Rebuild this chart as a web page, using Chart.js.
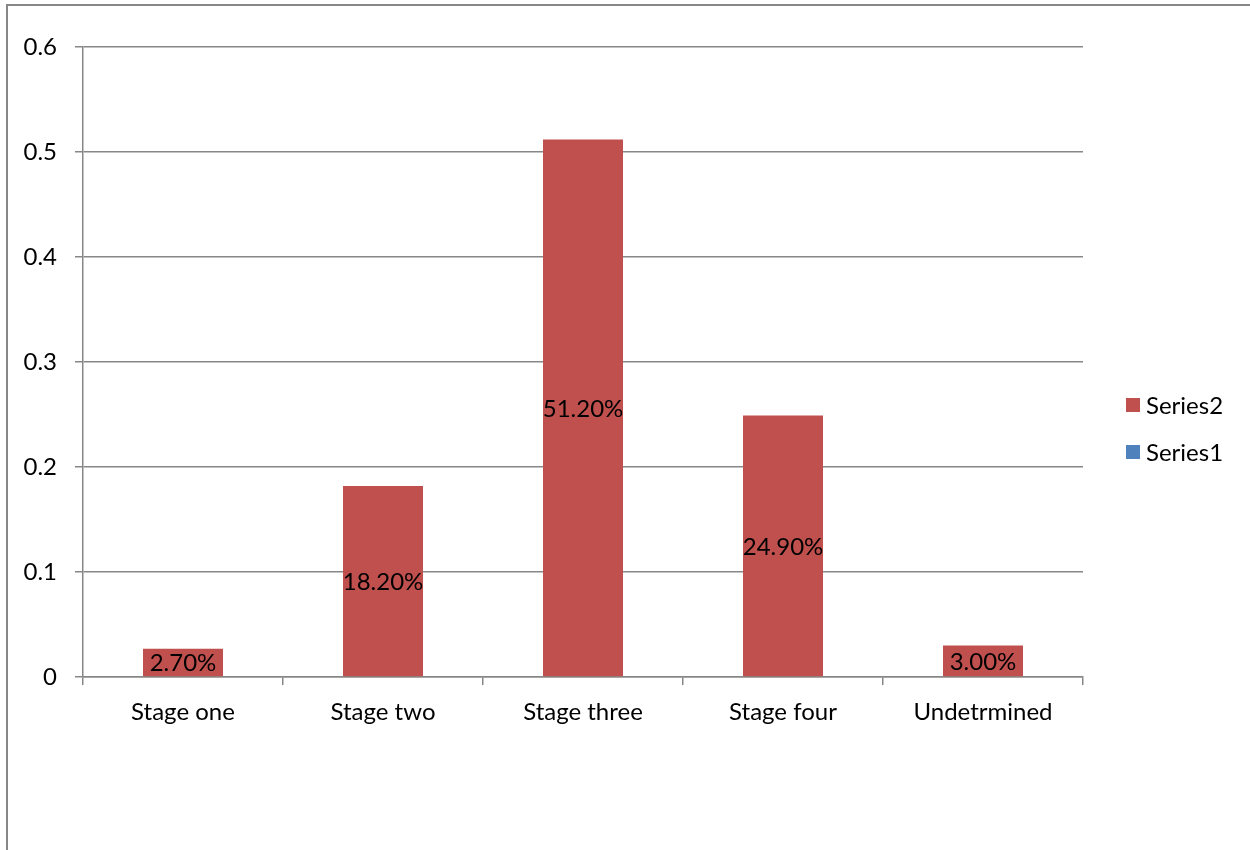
<!DOCTYPE html>
<html>
<head>
<meta charset="utf-8">
<script src="https://cdn.jsdelivr.net/npm/chart.js@4/dist/chart.umd.min.js"></script>
<style>
  html, body { margin: 0; padding: 0; background: #ffffff; }
  #wrap { width: 1250px; height: 850px; position: relative; }
</style>
</head>
<body>
<div id="wrap"><canvas id="chart" width="1250" height="850"></canvas></div>
<script>
// Stage distribution (fractions)
const categories = ['Stage one', 'Stage two', 'Stage three', 'Stage four', 'Undetrmined'];
const series2Values = [0.027, 0.182, 0.512, 0.249, 0.030];
const series1Values = [0, 0, 0, 0, 0];
const seriesNames = ['Series2', 'Series1'];
const seriesColors = ['#C0504D', '#4F81BD'];

const FONT = 'Lato, Carlito, Calibri, "Open Sans", sans-serif';
const FONT_SIZE = 24;
const AXIS_GREY = '#878787';

// Outer frame of the chart
const framePlugin = {
  id: 'frame',
  beforeDraw(chart) {
    const ctx = chart.ctx;
    ctx.save();
    ctx.fillStyle = '#ffffff';
    ctx.fillRect(0, 0, chart.width, chart.height);
    ctx.strokeStyle = AXIS_GREY;
    ctx.lineWidth = 2;
    ctx.strokeRect(7, 5, chart.width + 50, chart.height + 50);
    ctx.restore();
  }
};

// Percentage labels centred inside each bar
const barLabelPlugin = {
  id: 'barLabels',
  afterDatasetsDraw(chart) {
    const ctx = chart.ctx;
    ctx.save();
    ctx.font = FONT_SIZE + 'px ' + FONT;
    ctx.fillStyle = '#000000';
    ctx.textAlign = 'center';
    ctx.textBaseline = 'middle';
    const meta = chart.getDatasetMeta(0);
    meta.data.forEach((bar, i) => {
      const v = chart.data.datasets[0].data[i];
      const cy = (bar.y + bar.base) / 2;
      ctx.fillText((v * 100).toFixed(2) + '%', bar.x, cy + 1);
    });
    ctx.restore();
  }
};

// Legend at the right side
const sideLegendPlugin = {
  id: 'sideLegend',
  afterDraw(chart) {
    const ctx = chart.ctx;
    ctx.save();
    ctx.font = FONT_SIZE + 'px ' + FONT;
    ctx.textBaseline = 'middle';
    ctx.textAlign = 'left';
    chart.data.datasets.forEach((ds, i) => {
      const y = 405 + i * 47;
      ctx.fillStyle = ds.backgroundColor;
      ctx.fillRect(1126, y - 7, 14, 14);
      ctx.fillStyle = '#000000';
      ctx.fillText(ds.label, 1146, y + 1);
    });
    ctx.restore();
  }
};

new Chart(document.getElementById('chart'), {
  type: 'bar',
  data: {
    labels: categories,
    datasets: [
      { label: seriesNames[0], data: series2Values, backgroundColor: seriesColors[0], barPercentage: 0.4, categoryPercentage: 1.0 },
      { label: seriesNames[1], data: series1Values, backgroundColor: seriesColors[1], barPercentage: 0.4, categoryPercentage: 1.0 }
    ]
  },
  options: {
    responsive: false,
    animation: false,
    devicePixelRatio: 1,
    layout: { padding: { left: 0, right: 167, top: 47, bottom: 0 } },
    plugins: {
      legend: { display: false },
      tooltip: { enabled: false }
    },
    scales: {
      x: {
        stacked: true,
        afterFit(scale) { scale.height = 173; },
        grid: {
          offset: true,
          drawOnChartArea: false,
          drawTicks: true,
          tickLength: 8,
          color: AXIS_GREY,
          lineWidth: 1.5
        },
        border: { display: true, color: AXIS_GREY, width: 1.5 },
        ticks: {
          color: '#000000',
          font: { family: FONT, size: FONT_SIZE },
          padding: 13,
          maxRotation: 0,
          autoSkip: false
        }
      },
      y: {
        stacked: true,
        min: 0,
        max: 0.6,
        afterFit(scale) { scale.width = 83; },
        grid: {
          color: AXIS_GREY,
          lineWidth: 1.5,
          drawTicks: true,
          tickLength: 8
        },
        border: { display: true, color: AXIS_GREY, width: 1.5 },
        ticks: {
          stepSize: 0.1,
          color: '#000000',
          font: { family: FONT, size: FONT_SIZE },
          padding: 18,
          callback: (v) => (Math.abs(v) < 1e-9 ? '0' : v.toFixed(1))
        }
      }
    }
  },
  plugins: [framePlugin, barLabelPlugin, sideLegendPlugin]
});
</script>
</body>
</html>
